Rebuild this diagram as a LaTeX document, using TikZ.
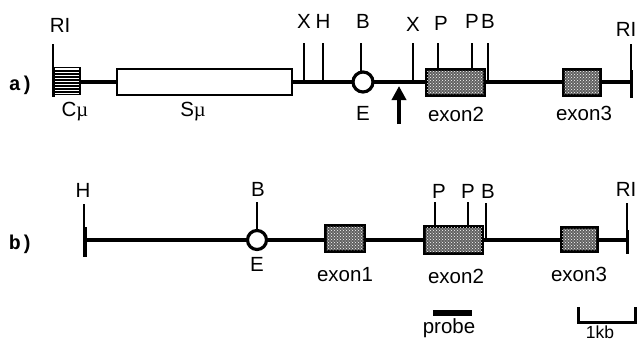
\documentclass[tikz,border=0pt]{standalone}
\usepackage{fontspec}
\setmainfont{Liberation Sans}
\setmonofont{Liberation Mono}
\usetikzlibrary{patterns,arrows.meta}
\tikzset{
 backbone/.style={line width=3.4pt},
 site/.style={line width=1.8pt},
 endbar/.style={line width=3pt},
 exonbox/.style={draw=black,line width=2pt,fill=black!62,anchor=center},
 switchbox/.style={draw=black,line width=1.9pt,fill=white},
 enh/.style={circle,draw=black,line width=3.2pt,fill=white,minimum size=20pt,inner sep=0pt},
 lab/.style={font=\fontsize{20.5}{20.5}\selectfont,inner sep=0pt},
 tag/.style={font=\fontsize{20}{20}\selectfont\ttfamily\bfseries,inner sep=0pt}
}
\newcommand{\musym}{{\fontspec{Liberation Serif}\symbol{"00B5}}}
\begin{document}
\begin{tikzpicture}[x=1pt,y=-1pt]
\useasboundingbox (0,0) rectangle (637,343);
% ---- panel a
\coordinate (aL) at (53,82);
\coordinate (aR) at (631,82);
\draw[backbone] (aL) -- (aR);
\draw[endbar] (aR) ++(0,-12) -- ++(0,28);
\draw[site] (631,44) -- (631,70);
\node[lab] (aRIl) at (60,25) {RI};
\node[lab] (aRIr) at (626,29) {RI};
\coordinate (aRItop) at (53,44);
\coordinate (aRIbot) at (53,97);
\draw[site] (aRItop) -- (53,68);
\node[draw=black,line width=1.9pt,fill=white,minimum width=26pt,minimum height=27pt,inner sep=0pt] (cmu) at (67,81) {};
\foreach \yy in {71,74,77,80,83,86,89,92}{\draw[line width=1.3pt] (55,\yy) -- (79,\yy);}
\draw[endbar] (53,67) -- (aRIbot);
\node[switchbox,minimum width=175pt,minimum height=26pt,inner sep=0pt] (smu) at (204.5,82) {};
\node[lab] (cmul) at (75,112) {C\musym};
\node[lab] (smul) at (193,112) {S\musym};
\foreach \nm/\xx/\ly/\lab/\yy in {x1/304/21/X/82,h1/323/21/H/82,x2/413/24/X/82,b2/488/21/B/82}{
  \node[lab] (\nm) at (\xx,\ly) {\lab};
  \draw[site] (\xx,43) -- (\xx,\yy);
}
\node[lab] (b1) at (363,21) {B};
\node[lab] (p1) at (441,23) {P};
\node[lab] (p2) at (472,21) {P};
\draw[site] (361,43) -- (361,72);
\draw[site] (438,43) -- (438,70);
\draw[site] (472,43) -- (472,70);
\node[enh] (ea) at (363,82) {};
\node[lab] (eal) at (363,113) {E};
\node[exonbox,minimum width=57pt,minimum height=25pt,inner sep=0pt] (a2) at (455.5,82) {};
\node[exonbox,minimum width=36pt,minimum height=25pt,inner sep=0pt] (a3) at (582,82) {};
\foreach \n in {a2,a3}{\fill[pattern=crosshatch dots,pattern color=white] (\n.south west) rectangle (\n.north east);
  \draw[line width=2pt] (\n.south west) rectangle (\n.north east);}
\node[lab] (a2l) at (456,114) {exon2};
\node[lab] (a3l) at (584,113) {exon3};
\coordinate (arT) at (399,86);
\coordinate (arB) at (399,124);
\draw[line width=3.6pt,-{Triangle[length=14pt,width=14pt]}] (arB) -- (arT);
\node[tag] (ta) at (21,85) {a)};
% ---- panel b
\coordinate (bL) at (84,240);
\coordinate (bR) at (627,240);
\draw[backbone] (bL) -- (bR);
\draw[site] (84,204) -- (84,228);
\draw[endbar,line width=3.6pt] (85,227) -- (85,257);
\draw[site] (627,203) -- (627,230);
\draw[endbar] (627,230) -- (627,254);
\node[lab] (hb) at (83,190) {H};
\node[lab] (bb) at (258,189) {B};
\node[lab] (p3) at (439,191) {P};
\node[lab] (p4) at (468,191) {P};
\node[lab] (b3) at (488,191) {B};
\node[lab] (rib) at (626,189) {RI};
\draw[site] (257,202) -- (257,230);
\draw[site] (435,202) -- (435,226);
\draw[site] (468,202) -- (468,226);
\draw[site] (486,203) -- (486,240);
\node[enh,minimum size=19pt] (eb) at (257,240) {};
\node[lab] (ebl) at (257,264) {E};
\node[exonbox,minimum width=38pt,minimum height=25pt,inner sep=0pt] (b1e) at (345,238) {};
\node[exonbox,minimum width=57pt,minimum height=26pt,inner sep=0pt] (b2e) at (453,239.5) {};
\node[exonbox,minimum width=35pt,minimum height=23pt,inner sep=0pt] (b3e) at (579,239.5) {};
\foreach \n in {b1e,b2e,b3e}{\fill[pattern=crosshatch dots,pattern color=white] (\n.south west) rectangle (\n.north east);
  \draw[line width=2pt] (\n.south west) rectangle (\n.north east);}
\node[lab] (b1l) at (345,275) {exon1};
\node[lab] (b2l) at (456,276) {exon2};
\node[lab] (b3l) at (579,274) {exon3};
\node[tag] (tb) at (21,244) {b)};
\coordinate (prL) at (433,313);
\coordinate (prR) at (472,313);
\draw[line width=6pt] (prL) -- (prR);
\node[lab] (pr) at (449,328) {probe};
\coordinate (sbA) at (578,307);
\coordinate (sbB) at (635,307);
\draw[line width=3pt] (sbA) -- (578,322) -- (635,322) -- (sbB);
\node[lab,font=\fontsize{17.5}{17.5}\selectfont] (kb) at (600,332.5) {1kb};
\end{tikzpicture}
\end{document}
